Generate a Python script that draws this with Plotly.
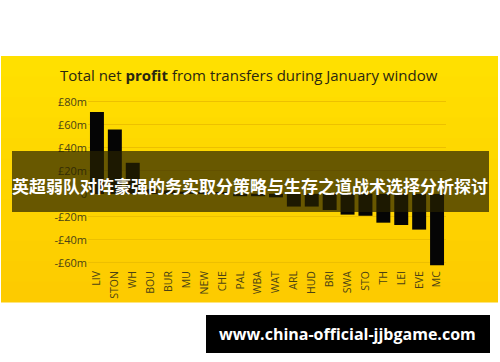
import plotly.graph_objects as go

teams = ["LIV", "STON", "WH", "BOU", "BUR", "MU", "NEW", "CHE", "PAL", "WBA",
         "WAT", "ARL", "HUD", "BRI", "SWA", "STO", "TH", "LEI", "EVE", "MC"]
profit = [71, 56, 27, 4, 3, 2, 1, 1, -2, -2,
          -3, -11, -11, -14, -18, -19, -25, -27, -31, -62]
tick_vals = [80, 60, 40, 20, 0, -20, -40, -60]
tick_text = ["£80m", "£60m", "£40m", "£20m", "0", "-£20m", "-£40m", "-£60m"]
title_html = "Total net <b>profit</b> from transfers during January window"
banner_text = "英超弱队对阵豪强的务实取分策略与生存之道战术选择分析探讨"
watermark = "www.china-official-jjbgame.com"

W, H = 500, 362
ML, MR, MT, MB = 88, 54, 96, 94
PW, PH = W - ML - MR, H - MT - MB

def px(x):
    return (x - ML) / PW

def py(y):
    return 1 - (y - MT) / PH

fig = go.Figure(go.Bar(
    x=teams, y=profit, marker=dict(color="#050505", line=dict(width=0)),
    hoverinfo="skip"))

shapes = []
# yellow background with slight vertical gradient
top, bot = 56, 302
bands = 12
c0 = (255, 224, 0)
c1 = (253, 203, 0)
for i in range(bands):
    y0 = top + (bot - top) * i / bands
    y1 = top + (bot - top) * (i + 1) / bands + 0.6
    t = i / (bands - 1)
    col = tuple(round(c0[k] + (c1[k] - c0[k]) * t) for k in range(3))
    shapes.append(dict(type="rect", xref="paper", yref="paper", layer="below",
                       x0=px(1), x1=px(498), y0=py(y0), y1=py(y1),
                       fillcolor="rgb(%d,%d,%d)" % col, line=dict(width=0)))
# dark banner
shapes.append(dict(type="rect", xref="paper", yref="paper", layer="above",
                   x0=px(12), x1=px(489), y0=py(151), y1=py(212),
                   fillcolor="rgba(40,34,0,0.70)", line=dict(width=0)))
# watermark box
shapes.append(dict(type="rect", xref="paper", yref="paper", layer="above",
                   x0=px(206), x1=px(490), y0=py(315), y1=py(353),
                   fillcolor="#000000", line=dict(width=0)))

annotations = [
    dict(text=title_html, xref="paper", yref="paper", x=px(58), y=py(75),
         xanchor="left", yanchor="middle", showarrow=False,
         font=dict(family="Open Sans", size=15, color="#2a2710")),
    dict(text="<b>" + banner_text + "</b>", xref="paper", yref="paper",
         x=px(250), y=py(185), xanchor="center", yanchor="middle", showarrow=False,
         font=dict(family="Noto Sans CJK SC", size=17, color="#ffffff")),
    dict(text="<b>" + watermark + "</b>", xref="paper", yref="paper",
         x=px(347), y=py(334), xanchor="center", yanchor="middle", showarrow=False,
         font=dict(family="Open Sans", size=16, color="#ffffff")),
]

fig.update_layout(
    width=W, height=H, margin=dict(l=ML, r=MR, t=MT, b=MB),
    paper_bgcolor="#ffffff", plot_bgcolor="rgba(0,0,0,0)",
    bargap=0.22, showlegend=False,
    shapes=shapes, annotations=annotations,
    xaxis=dict(tickangle=-90, tickfont=dict(family="Open Sans", size=10.5, color="#4a4215"),
               showgrid=False, zeroline=False, showline=False, ticks="",
               range=[-0.5, 19.5], fixedrange=True),
    yaxis=dict(range=[-64.35, 85], tickvals=tick_vals, ticktext=tick_text,
               tickfont=dict(family="Open Sans", size=11, color="#4a4215"),
               showgrid=True, gridcolor="rgba(235,190,0,0.9)", gridwidth=1,
               zeroline=False, showline=False, ticks="", fixedrange=True),
)

fig.write_html("out.html", config={"displayModeBar": False},
               post_script="document.body.style.margin='0px';document.body.style.overflow='hidden';")
